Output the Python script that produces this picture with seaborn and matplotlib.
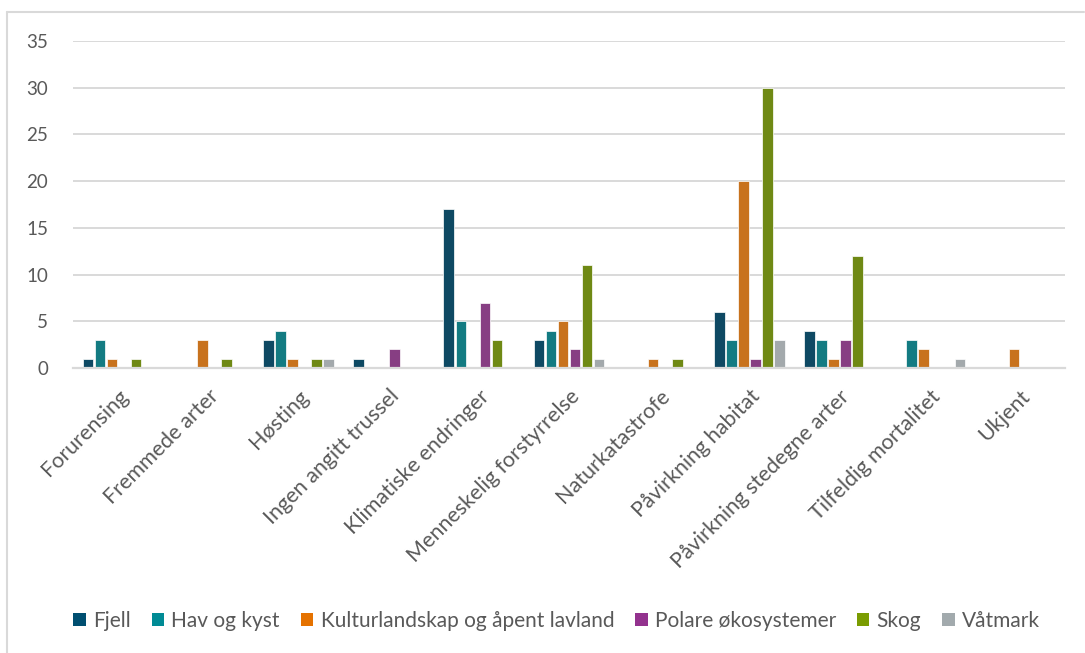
import matplotlib
matplotlib.use("Agg")
import matplotlib.pyplot as plt
from matplotlib.lines import Line2D
from matplotlib.patches import Patch
import seaborn as sns
import pandas as pd

categories = [
    "Forurensing", "Fremmede arter", "Høsting", "Ingen angitt trussel",
    "Klimatiske endringer", "Menneskelig forstyrrelse", "Naturkatastrofe",
    "Påvirkning habitat", "Påvirkning stedegne arter", "Tilfeldig mortalitet",
    "Ukjent",
]
series = ["Fjell", "Hav og kyst", "Kulturlandskap og åpent lavland",
          "Polare økosystemer", "Skog", "Våtmark"]

fjell = [1, 0, 3, 1, 17, 3, 0, 6, 4, 0, 0]
hav_og_kyst = [3, 0, 4, 0, 5, 4, 0, 3, 3, 3, 0]
kulturlandskap = [1, 3, 1, 0, 0, 5, 1, 20, 1, 2, 2]
polare = [0, 0, 0, 2, 7, 2, 0, 1, 3, 0, 0]
skog = [1, 1, 1, 0, 3, 11, 1, 30, 12, 0, 0]
vatmark = [0, 0, 1, 0, 0, 1, 0, 3, 0, 1, 0]

colors = ["#004F71", "#008B95", "#E57200", "#93328E", "#7A9C01", "#A2AAAD"]

values = [fjell, hav_og_kyst, kulturlandskap, polare, skog, vatmark]
rows = []
for name, vals in zip(series, values):
    for cat, v in zip(categories, vals):
        rows.append({"Trussel": cat, "Økosystem": name, "Antall": v})
df = pd.DataFrame(rows)

sns.set_theme(style="white")
plt.rcParams["font.family"] = ["Lato", "DejaVu Sans"]
text_color = "#595959"
grid_color = "#D9D9D9"

fig = plt.figure(figsize=(10.85, 6.53), dpi=100)
ax = fig.add_axes([0.0673, 0.4364, 0.9143, 0.5008])

sns.barplot(
    data=df, x="Trussel", y="Antall", hue="Økosystem",
    order=categories, hue_order=series, palette=colors,
    width=0.8, gap=0.12, edgecolor="white", linewidth=0.5,
    ax=ax, legend=False,
)

ax.set_ylim(0, 35)
ax.set_xlim(-0.5, len(categories) - 0.5)
ax.set_yticks(range(0, 36, 5))
ax.yaxis.grid(True, color=grid_color, linewidth=1.4)
ax.set_axisbelow(True)
for s in ["top", "right", "left"]:
    ax.spines[s].set_visible(False)
ax.spines["bottom"].set_color(grid_color)
ax.spines["bottom"].set_linewidth(1.6)
ax.set_xlabel("")
ax.set_ylabel("")
ax.tick_params(axis="y", length=0, pad=18, labelsize=13.5, labelcolor=text_color)
ax.tick_params(axis="x", length=0, pad=13, labelsize=15.5, labelcolor=text_color)
plt.setp(ax.get_xticklabels(), rotation=45, ha="right", rotation_mode="anchor")

handles = [Patch(facecolor=c, edgecolor="none") for c in colors]
fig.legend(
    handles, series, loc="center", bbox_to_anchor=(0.513, 0.049), ncol=6,
    frameon=False, fontsize=15, labelcolor=text_color,
    handlelength=0.6, handleheight=0.6, handletextpad=0.35, columnspacing=1.0,
)

# light frame around the chart area
fig.add_artist(Line2D([7 / 1085, 7 / 1085], [0, 1 - 12 / 653],
                      transform=fig.transFigure, color=grid_color, linewidth=1.5))
fig.add_artist(Line2D([7 / 1085, 1084 / 1085], [1 - 12 / 653, 1 - 12 / 653],
                      transform=fig.transFigure, color=grid_color, linewidth=1.5))

fig.savefig("out.png", dpi=100, facecolor="white")
